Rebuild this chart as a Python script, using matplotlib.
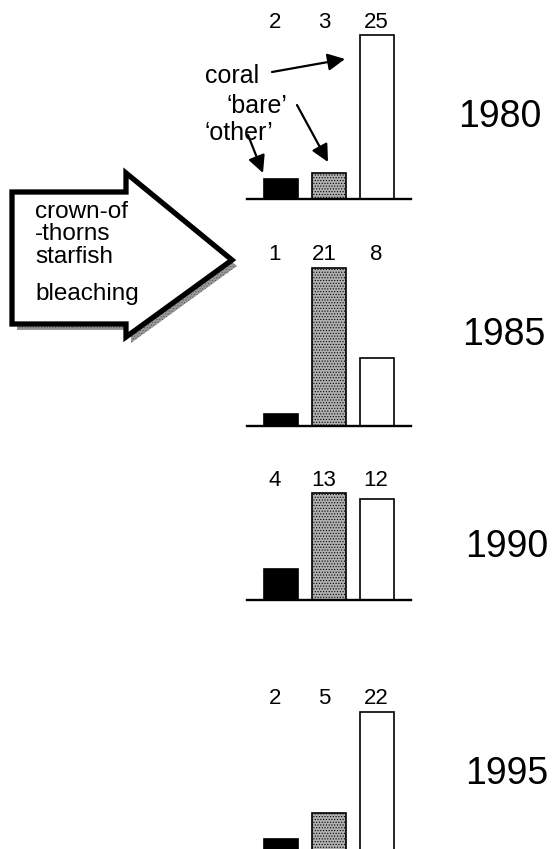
import matplotlib.pyplot as plt
from matplotlib.patches import Polygon

plt.rcParams['font.family'] = ['Liberation Sans', 'DejaVu Sans']
plt.rcParams['hatch.linewidth'] = 0.5

# data
years = ['1980', '1985', '1990', '1995']
categories = ["'other'", "'bare'", 'coral']
counts_1980 = [2, 3, 25]
counts_1985 = [1, 21, 8]
counts_1990 = [4, 13, 12]
counts_1995 = [2, 5, 22]
# bar heights as drawn (read off the picture, not proportional to counts)
cover_1980 = [3.05, 3.96, 25.0]
cover_1985 = [1.83, 24.1, 10.4]
cover_1990 = [4.7, 16.3, 15.4]
cover_1995 = [4.1, 8.1, 23.5]

counts = [counts_1980, counts_1985, counts_1990, counts_1995]
cover = [cover_1980, cover_1985, cover_1990, cover_1995]

W, H = 553, 849
fig = plt.figure(figsize=(W / 100, H / 100), dpi=100)

px_per_unit = 6.56
baselines = [199, 426, 600, 866]
year_base = [127, 345, 557, 784]
year_x = [458, 462, 465, 465]
bar_colors = ['black', '#b0b0b0', 'white']
bar_hatch = [None, '......', None]
lab_shift = [-6, -5, -1]

for k in range(4):
    b = baselines[k]
    ax = fig.add_axes([247 / W, 1 - b / H, 164 / W, 185 / H])
    ax.set_xlim(-0.708, 2.708)
    ax.set_ylim(0, 185 / px_per_unit)
    for i in range(3):
        ax.bar(i, cover[k][i], width=0.69, color=bar_colors[i], edgecolor='black',
               linewidth=1.2, hatch=bar_hatch[i])
        ax.annotate(str(counts[k][i]), xy=(i, max(cover[k])),
                    xytext=(lab_shift[i] * 0.72, 13 * 0.72), textcoords='offset points',
                    ha='center', va='center', fontsize=16)
    for s in ['top', 'right', 'left']:
        ax.spines[s].set_visible(False)
    ax.spines['bottom'].set_linewidth(1.7)
    ax.set_xticks([])
    ax.set_yticks([])
    ax.patch.set_alpha(0)
    fig.text(year_x[k] / W, 1 - year_base[k] / H, years[k], fontsize=27,
             va='baseline', ha='left')

# overlay in pixel coordinates for the arrow and annotations
ov = fig.add_axes([0, 0, 1, 1], zorder=5)
ov.set_xlim(0, W)
ov.set_ylim(H, 0)
ov.axis('off')
ov.patch.set_alpha(0)

arrow_pts = [(12, 192), (126, 192), (126, 173), (232, 260), (126, 337), (126, 324), (12, 324)]
shadow_pts = [(x + 5, y + 6) for x, y in arrow_pts]
ov.add_patch(Polygon(shadow_pts, closed=True, facecolor='#9a9a9a', edgecolor='#555555',
                     linewidth=0, hatch='......'))
ov.add_patch(Polygon(arrow_pts, closed=True, facecolor='white', edgecolor='black',
                     linewidth=3.8, joinstyle='miter'))

inner = ['crown-of', '-thorns', 'starfish', 'bleaching']
inner_base = [218, 240, 263, 300]
for t, yb in zip(inner, inner_base):
    ov.text(35, yb, t, fontsize=17.5, va='baseline', ha='left')

ov.text(205, 83, 'coral', fontsize=18, va='baseline', ha='left')
ov.text(226, 113, '\u2018bare\u2019', fontsize=18, va='baseline', ha='left')
ov.text(204, 140, '\u2018other\u2019', fontsize=18, va='baseline', ha='left')

aprops = dict(arrowstyle='-|>', color='black', lw=1.6, mutation_scale=26,
              shrinkA=0, shrinkB=0)
ov.annotate('', xy=(345, 59), xytext=(272, 72), arrowprops=aprops)
ov.annotate('', xy=(328, 162), xytext=(297, 105), arrowprops=aprops)
ov.annotate('', xy=(263, 173), xytext=(248, 135), arrowprops=aprops)

fig.savefig('out.png', dpi=100)
